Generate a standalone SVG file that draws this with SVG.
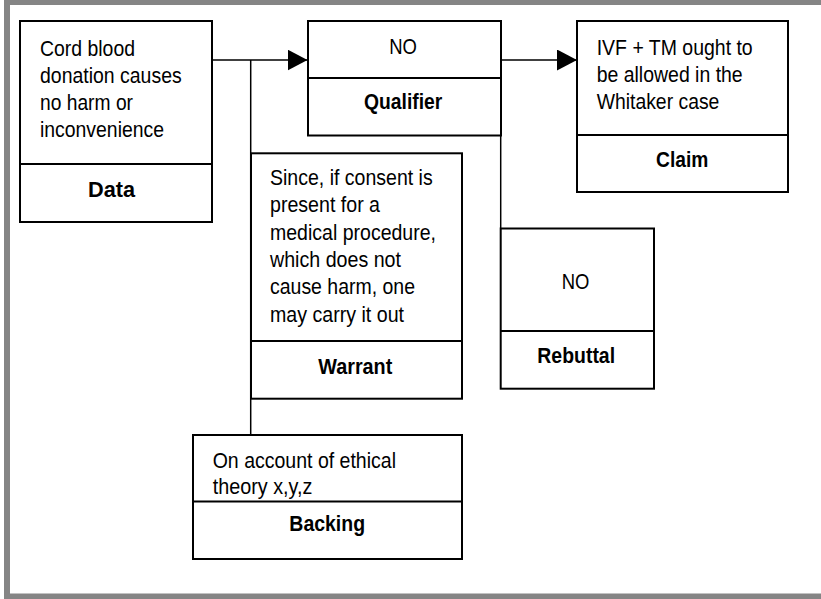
<svg xmlns="http://www.w3.org/2000/svg" width="821" height="599" viewBox="0 0 821 599">
<defs>
<style>
.box{fill:#fff;stroke:#000;stroke-width:2}
.div{stroke:#000;stroke-width:2}
.con{stroke:#000;stroke-width:1.5;fill:none}
text{font-family:"Liberation Sans",Arial,sans-serif;font-size:22.5px;fill:#000}
.b{font-weight:bold;text-anchor:middle}
</style>
<marker id="arr" viewBox="0 0 20 21" refX="20" refY="10.5" markerWidth="20" markerHeight="21" markerUnits="userSpaceOnUse" orient="auto">
<path d="M0,0 L20,10.5 L0,21 Z" fill="#000"/>
</marker>
</defs>
<rect x="0" y="0" width="821" height="599" fill="#fff"/>
<rect x="7" y="2" width="820" height="594.5" fill="none" stroke="#858585" stroke-width="6"/>

<g id="connectors">
<line class="con" x1="212" y1="60" x2="307.5" y2="60" marker-end="url(#arr)"/>
<line class="con" x1="250.7" y1="60" x2="250.7" y2="435"/>
<line class="con" x1="501" y1="60" x2="577" y2="60" marker-end="url(#arr)"/>
<line class="con" x1="500.7" y1="135" x2="500.7" y2="228.5"/>
</g>

<g id="data">
<rect class="box" x="20" y="21" width="192" height="201"/>
<line class="div" x1="20" y1="164" x2="212" y2="164"/>
<text x="40" y="55.5" textLength="95" lengthAdjust="spacingAndGlyphs">Cord blood</text>
<text x="40" y="82.8" textLength="141.7" lengthAdjust="spacingAndGlyphs">donation causes</text>
<text x="40" y="110.1" textLength="93" lengthAdjust="spacingAndGlyphs">no harm or</text>
<text x="40" y="137.4" textLength="124" lengthAdjust="spacingAndGlyphs">inconvenience</text>
<text class="b" x="111.5" y="196.5" textLength="47" lengthAdjust="spacingAndGlyphs">Data</text>
</g>

<g id="qualifier">
<rect class="box" x="308" y="21" width="193" height="114.5"/>
<line class="div" x1="308" y1="78" x2="501" y2="78"/>
<text x="403" y="54" text-anchor="middle" textLength="27.7" lengthAdjust="spacingAndGlyphs">NO</text>
<text class="b" x="403.2" y="108.5" textLength="78.3" lengthAdjust="spacingAndGlyphs">Qualifier</text>
</g>

<g id="claim">
<rect class="box" x="577" y="21" width="211" height="171"/>
<line class="div" x1="577" y1="135" x2="788" y2="135"/>
<text x="596.7" y="54.5" textLength="156" lengthAdjust="spacingAndGlyphs">IVF + TM ought to</text>
<text x="596.7" y="81.8" textLength="146" lengthAdjust="spacingAndGlyphs">be allowed in the</text>
<text x="596.7" y="109.1" textLength="122.7" lengthAdjust="spacingAndGlyphs">Whitaker case</text>
<text class="b" x="682.2" y="166.5" textLength="52.3" lengthAdjust="spacingAndGlyphs">Claim</text>
</g>

<g id="warrant">
<rect class="box" x="251" y="153.3" width="211" height="245.4"/>
<line class="div" x1="251" y1="341" x2="462" y2="341"/>
<text x="270" y="185" textLength="162.7" lengthAdjust="spacingAndGlyphs">Since, if consent is</text>
<text x="270" y="212.3" textLength="110" lengthAdjust="spacingAndGlyphs">present for a</text>
<text x="270" y="239.6" textLength="166" lengthAdjust="spacingAndGlyphs">medical procedure,</text>
<text x="270" y="266.9" textLength="131" lengthAdjust="spacingAndGlyphs">which does not</text>
<text x="270" y="294.2" textLength="145" lengthAdjust="spacingAndGlyphs">cause harm, one</text>
<text x="270" y="321.5" textLength="134" lengthAdjust="spacingAndGlyphs">may carry it out</text>
<text class="b" x="355.3" y="374" textLength="74" lengthAdjust="spacingAndGlyphs">Warrant</text>
</g>

<g id="rebuttal">
<rect class="box" x="500.7" y="228.5" width="153.3" height="160.2"/>
<line class="div" x1="500.7" y1="331" x2="654" y2="331"/>
<text x="575.5" y="289" text-anchor="middle" textLength="27.7" lengthAdjust="spacingAndGlyphs">NO</text>
<text class="b" x="576.2" y="363" textLength="77.7" lengthAdjust="spacingAndGlyphs">Rebuttal</text>
</g>

<g id="backing">
<rect class="box" x="193" y="435" width="269" height="124"/>
<line class="div" x1="193" y1="501.5" x2="462" y2="501.5"/>
<text x="212.7" y="468" textLength="183.3" lengthAdjust="spacingAndGlyphs">On account of ethical</text>
<text x="212.7" y="494" textLength="99.7" lengthAdjust="spacingAndGlyphs">theory x,y,z</text>
<text class="b" x="327.2" y="531" textLength="75.7" lengthAdjust="spacingAndGlyphs">Backing</text>
</g>
</svg>
